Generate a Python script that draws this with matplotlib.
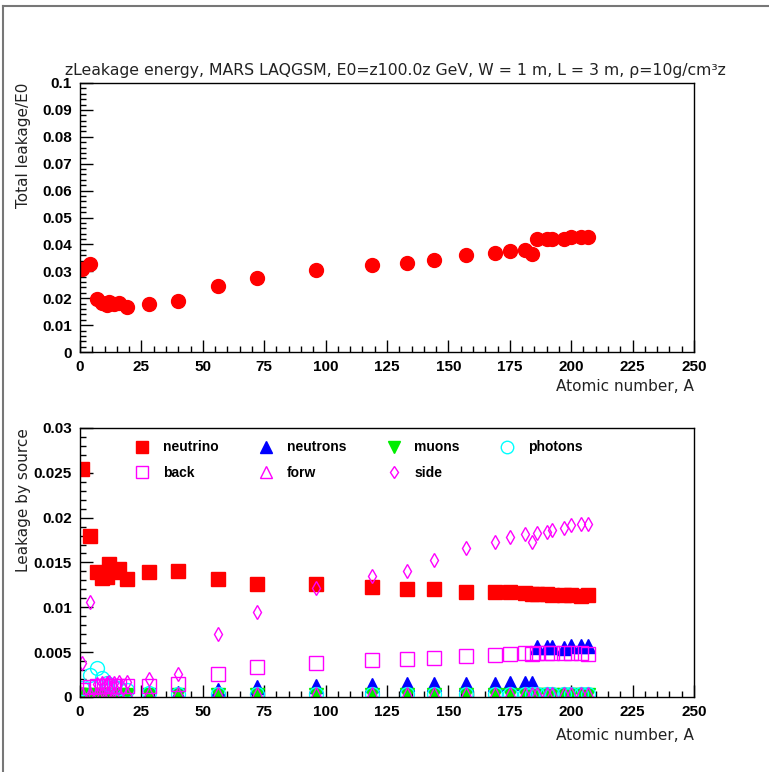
import matplotlib
matplotlib.use("Agg")
import matplotlib.pyplot as plt
from matplotlib.lines import Line2D
from matplotlib.ticker import MultipleLocator

# atomic numbers of the targets
A = [1, 4, 7, 9, 11, 12, 14, 16, 19, 28, 40, 56, 72, 96, 119, 133, 144, 157,
     169, 175, 181, 184, 186, 190, 192, 197, 200, 204, 207]

total = [0.0310, 0.0327, 0.0198, 0.0181, 0.0173, 0.0187, 0.0177, 0.0181, 0.0169,
         0.0177, 0.0190, 0.0244, 0.0274, 0.0306, 0.0325, 0.0331, 0.0342, 0.0359,
         0.0368, 0.0374, 0.0378, 0.0366, 0.0419, 0.0419, 0.0421, 0.0421, 0.0426,
         0.0429, 0.0429]

neutrino = [0.0254, 0.0180, 0.0139, 0.0133, 0.0134, 0.0148, 0.0139, 0.0143, 0.0132,
            0.0139, 0.0140, 0.0131, 0.0126, 0.0126, 0.0123, 0.0120, 0.0120, 0.0117,
            0.0117, 0.0117, 0.0116, 0.0115, 0.0115, 0.0115, 0.0114, 0.0114, 0.0114,
            0.0113, 0.0114]
neutrons = [0.0001, 0.0001, 0.0001, 0.0001, 0.0001, 0.0001, 0.0001, 0.0001, 0.0001,
            0.0003, 0.0004, 0.0008, 0.0011, 0.0012, 0.0013, 0.00145, 0.00145, 0.0015,
            0.0015, 0.0016, 0.0016, 0.0016, 0.0056, 0.0056, 0.0056, 0.0055, 0.0057,
            0.0057, 0.0057]
muons = [0.0002, 0.0002, 0.0002, 0.0002, 0.0002, 0.0002, 0.0002, 0.0002, 0.0002,
         0.0002, 0.0002, 0.0002, 0.0002, 0.0002, 0.0002, 0.0002, 0.0002, 0.0002,
         0.0002, 0.0002, 0.0002, 0.0002, 0.0002, 0.0002, 0.0002, 0.0002, 0.0002,
         0.0002, 0.0002]
photons = [0.0010, 0.0025, 0.0032, 0.0021, 0.0016, 0.0013, 0.0011, 0.0010, 0.0008,
           0.0004, 0.0003, 0.0003, 0.0003, 0.0003, 0.0003, 0.0003, 0.0003, 0.0003,
           0.0003, 0.0003, 0.0003, 0.0003, 0.0003, 0.0003, 0.0003, 0.0003, 0.0003,
           0.0003, 0.0003]
back = [0.0008, 0.0011, 0.0012, 0.0012, 0.0012, 0.0012, 0.0012, 0.0012, 0.0012,
        0.00126, 0.0015, 0.0026, 0.0033, 0.0038, 0.0041, 0.0042, 0.0044, 0.0046,
        0.0047, 0.0048, 0.0049, 0.0048, 0.0049, 0.0049, 0.0049, 0.0049, 0.0049,
        0.0049, 0.0048]
forw = [0.0003, 0.0003, 0.0003, 0.0003, 0.0003, 0.0003, 0.0003, 0.0003, 0.0003,
        0.0003, 0.0003, 0.0003, 0.0003, 0.0003, 0.0003, 0.0003, 0.0003, 0.0003,
        0.0003, 0.0003, 0.0003, 0.0003, 0.0003, 0.0003, 0.0003, 0.0003, 0.0003,
        0.0003, 0.0003]
side = [0.0038, 0.0106, 0.0015, 0.0016, 0.0016, 0.0017, 0.0016, 0.0017, 0.0017,
        0.0020, 0.0026, 0.0070, 0.0095, 0.0121, 0.0135, 0.0141, 0.0153, 0.0166,
        0.0173, 0.0178, 0.0182, 0.0173, 0.0183, 0.0184, 0.0186, 0.0188, 0.0192,
        0.0193, 0.0193]

tickfont = dict(family="Liberation Sans", weight="bold", size=11)
labfont = dict(family="DejaVu Sans", size=11, color="#222222")

fig = plt.figure(figsize=(7.69, 7.72), dpi=100)
ax1 = fig.add_axes([0.104, 0.544, 0.7985, 0.3485])
ax2 = fig.add_axes([0.104, 0.0972, 0.7985, 0.3485])

# gray canvas border (left + top)
fig.add_artist(Line2D([0.004, 0.004], [0, 0.992], transform=fig.transFigure,
                      color="#777777", lw=1.5))
fig.add_artist(Line2D([0.004, 1.0], [0.992, 0.992], transform=fig.transFigure,
                      color="#777777", lw=1.5))

ax1.plot(A, total, "o", color="red", ms=10, mec="red")
ax1.set_ylim(0, 0.1)
ax1.yaxis.set_minor_locator(MultipleLocator(0.002))
ax1.set_yticks([0, 0.01, 0.02, 0.03, 0.04, 0.05, 0.06, 0.07, 0.08, 0.09, 0.1])
ax1.set_yticklabels(["0", "0.01", "0.02", "0.03", "0.04", "0.05", "0.06",
                     "0.07", "0.08", "0.09", "0.1"])

series = [
    (neutrino, "s", "red", True, "neutrino"),
    (neutrons, "^", "blue", True, "neutrons"),
    (muons, "v", "#00ee00", True, "muons"),
    (photons, "o", "cyan", False, "photons"),
    (back, "s", "magenta", False, "back"),
    (forw, "^", "magenta", False, "forw"),
    (side, "d", "magenta", False, "side"),
]
handles = {}
for vals, mk, col, filled, name in series:
    ms = 7 if mk == "d" else 10
    h, = ax2.plot(A, vals, mk, color=col, ms=ms, mec=col,
                  mfc=col if filled else "none", mew=1.0, label=name)
    handles[name] = h

order = ["neutrino", "back", "neutrons", "forw", "muons", "side", "photons"]
leg = ax2.legend([handles[k] for k in order], order, ncol=4, frameon=False,
                 loc="upper left", bbox_to_anchor=(0.07, 1.0),
                 prop=dict(family="Liberation Sans", weight="bold", size=10),
                 handletextpad=1.0, columnspacing=2.9, labelspacing=0.85,
                 markerscale=0.9, numpoints=1, handlelength=1.0)
ax2.set_ylim(0, 0.03)
ax2.set_yticks([0, 0.005, 0.01, 0.015, 0.02, 0.025, 0.03])
ax2.set_yticklabels(["0", "0.005", "0.01", "0.015", "0.02", "0.025", "0.03"])
ax2.yaxis.set_minor_locator(MultipleLocator(0.001))

for ax, lp in ((ax1, 3), (ax2, 6)):
    ax.set_xlim(0, 250)
    ax.set_xticks([0, 25, 50, 75, 100, 125, 150, 175, 200, 225, 250])
    ax.set_xticklabels(["0", "25", "50", "75", "100", "125", "150", "175",
                        "200", "225", "250"])
    ax.xaxis.set_minor_locator(MultipleLocator(5))
    ax.tick_params(which="both", direction="in", top=False, right=False,
                   width=1, color="black", pad=6)
    ax.tick_params(which="major", length=9)
    ax.tick_params(which="minor", length=4.5)
    for lab in ax.get_xticklabels() + ax.get_yticklabels():
        lab.set_fontproperties(tickfont)
    for s in ax.spines.values():
        s.set_linewidth(1.0)
    ax.set_xlabel("Atomic number, A", fontdict=labfont, loc="right", labelpad=lp)

ax1.set_ylabel("Total leakage/E0", fontdict=labfont, loc="top", labelpad=8)
ax2.set_ylabel("Leakage by source", fontdict=labfont, loc="top", labelpad=2)

fig.text(0.514, 0.909,
         "zLeakage energy, MARS LAQGSM, E0=z100.0z GeV, W = 1 m, L = 3 m, ρ=10g/cm³z",
         ha="center", va="center", fontdict=dict(family="DejaVu Sans", size=11.3,
                                                  color="#222222"))

fig.savefig("out.png", dpi=100)
